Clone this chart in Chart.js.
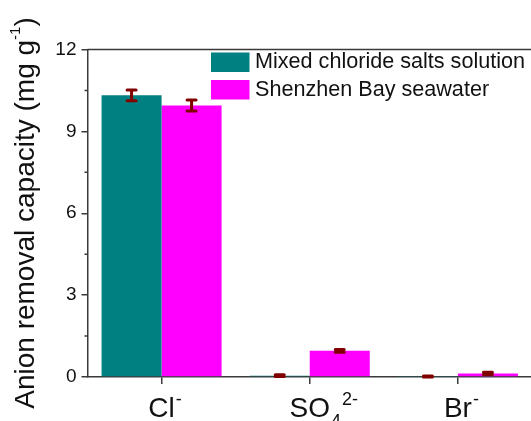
<!DOCTYPE html>
<html lang="en">
<head>
  <meta charset="UTF-8">
  <title>Anion removal capacity</title>
  <script src="https://cdn.jsdelivr.net/npm/chart.js"></script>
  <style>
    html, body { margin: 0; padding: 0; background: #fff; overflow: hidden; }
    #wrap { width: 540px; height: 421px; }
  </style>
</head>
<body>
  <div id="wrap"><canvas id="myChart"></canvas></div>

  <script>
    // anions on the x axis, drawn with sub/superscripts
    const categories = ['Cl-', 'SO42-', 'Br-'];
    const categoryParts = [
      [{ t: 'Cl' }, { t: '-', sup: true }],
      [{ t: 'SO' }, { t: '4', sub: true }, { t: '2-', sup: true }],
      [{ t: 'Br' }, { t: '-', sup: true }]
    ];

    const seriesNames = ['Mixed chloride salts solution', 'Shenzhen Bay seawater'];
    const mixedValues = [10.32, 0.05, 0.02];
    const mixedErrors = [0.2, 0.03, 0.02];
    const seawaterValues = [9.95, 0.96, 0.13];
    const seawaterErrors = [0.2, 0.05, 0.04];

    const yTicks = [0, 3, 6, 9, 12];
    const yMinorTicks = [1.5, 4.5, 7.5, 10.5];

    const FONT = '"Liberation Sans", Arial, sans-serif';
    const AXIS_COLOR = '#3a3a3a';
    const TEXT_COLOR = '#111';
    const errColor = '#800000';

    const errorBars = {
      id: 'errorBars',
      afterDatasetsDraw(chart) {
        const ctx = chart.ctx;
        const y = chart.scales.y;
        ctx.save();
        ctx.strokeStyle = errColor;
        ctx.lineWidth = 3;
        ctx.lineCap = 'round';
        chart.data.datasets.forEach((ds, i) => {
          chart.getDatasetMeta(i).data.forEach((bar, j) => {
            const v = ds.data[j], e = ds.errors[j];
            const top = y.getPixelForValue(v + e);
            const bot = y.getPixelForValue(v - e);
            const x = bar.x;
            ctx.beginPath();
            ctx.moveTo(x, top); ctx.lineTo(x, bot);
            ctx.moveTo(x - 4.5, top); ctx.lineTo(x + 4.5, top);
            ctx.moveTo(x - 4.5, bot); ctx.lineTo(x + 4.5, bot);
            ctx.stroke();
          });
        });
        ctx.restore();
      }
    };

    const decorations = {
      id: 'decorations',
      afterDraw(chart) {
        const ctx = chart.ctx;
        const area = chart.chartArea;
        const xs = chart.scales.x, ys = chart.scales.y;
        ctx.save();

        // top frame line
        ctx.strokeStyle = AXIS_COLOR;
        ctx.lineWidth = 1.5;
        ctx.beginPath();
        ctx.moveTo(area.left, area.top);
        ctx.lineTo(chart.width, area.top);
        ctx.stroke();

        // minor ticks on the y axis
        ctx.beginPath();
        yMinorTicks.forEach(v => {
          const py = ys.getPixelForValue(v);
          ctx.moveTo(area.left - 3, py);
          ctx.lineTo(area.left, py);
        });
        ctx.stroke();

        // category labels: base text centred on the tick, then sub/superscripts
        ctx.fillStyle = TEXT_COLOR;
        ctx.textBaseline = 'alphabetic';
        ctx.textAlign = 'left';
        const base = '28px ' + FONT, small = '18px ' + FONT;
        categoryParts.forEach((parts, i) => {
          ctx.font = base;
          let x = xs.getPixelForTick(i) - ctx.measureText(parts[0].t).width / 2;
          const baseY = 417;
          parts.forEach(p => {
            const script = p.sub || p.sup;
            ctx.font = script ? small : base;
            const dy = p.sup ? -12 : p.sub ? 10 : 0;
            ctx.fillText(p.t, x + (script ? 1 : 0), baseY + dy);
            x += ctx.measureText(p.t).width + (script ? 1 : 0);
          });
        });

        // y axis title, rotated
        ctx.save();
        ctx.translate(34, 213);
        ctx.rotate(-Math.PI / 2);
        const tFont = '28px ' + FONT, sFont = '15px ' + FONT;
        const t1 = 'Anion removal capacity (mg g', t2 = '-1', t3 = ')';
        ctx.font = tFont; const w1 = ctx.measureText(t1).width, w3 = ctx.measureText(t3).width;
        ctx.font = sFont; const w2 = ctx.measureText(t2).width;
        let tx = -(w1 + w2 + w3) / 2;
        ctx.font = tFont; ctx.fillText(t1, tx, 0); tx += w1;
        ctx.font = sFont; ctx.fillText(t2, tx, -14); tx += w2;
        ctx.font = tFont; ctx.fillText(t3, tx, 0);
        ctx.restore();

        // legend
        const colors = ['#008080', '#ff00ff'];
        ctx.font = '21.6px ' + FONT;
        ctx.textBaseline = 'middle';
        seriesNames.forEach((name, i) => {
          const by = 52.5 + i * 27.5;
          ctx.fillStyle = colors[i];
          ctx.fillRect(211, by, 38.5, 19.5);
          ctx.fillStyle = TEXT_COLOR;
          ctx.fillText(name, 255, by + 10);
        });

        ctx.restore();
      }
    };

    const ctx = document.getElementById('myChart').getContext('2d');
    const chart = new Chart(ctx, {
      type: 'bar',
      data: {
        labels: categories,
        datasets: [
          { label: seriesNames[0], data: mixedValues, errors: mixedErrors, backgroundColor: '#008080' },
          { label: seriesNames[1], data: seawaterValues, errors: seawaterErrors, backgroundColor: '#ff00ff' }
        ]
      },
      options: {
        responsive: true,
        maintainAspectRatio: false,
        animation: false,
        devicePixelRatio: 1,
        layout: { padding: { top: 49.5, right: 8, left: 0, bottom: 0 } },
        datasets: { bar: { categoryPercentage: 0.81, barPercentage: 1 } },
        plugins: { legend: { display: false }, tooltip: { enabled: false } },
        scales: {
          x: {
            offset: true,
            grid: { offset: false, drawOnChartArea: false, tickLength: 7, color: AXIS_COLOR, lineWidth: 1.5 },
            border: { color: AXIS_COLOR, width: 1.5 },
            ticks: { callback: () => '' },
            afterFit: s => { s.height = 44; }
          },
          y: {
            min: 0,
            max: 12,
            afterBuildTicks: s => { s.ticks = yTicks.map(v => ({ value: v })); },
            grid: { drawOnChartArea: false, tickLength: 6, color: AXIS_COLOR, lineWidth: 1.5 },
            border: { color: AXIS_COLOR, width: 1.5 },
            ticks: { font: { family: FONT, size: 19 }, color: TEXT_COLOR, padding: 5 },
            afterFit: s => { s.width = 87.5; }
          }
        }
      },
      plugins: [errorBars, decorations]
    });
  </script>
</body>
</html>
